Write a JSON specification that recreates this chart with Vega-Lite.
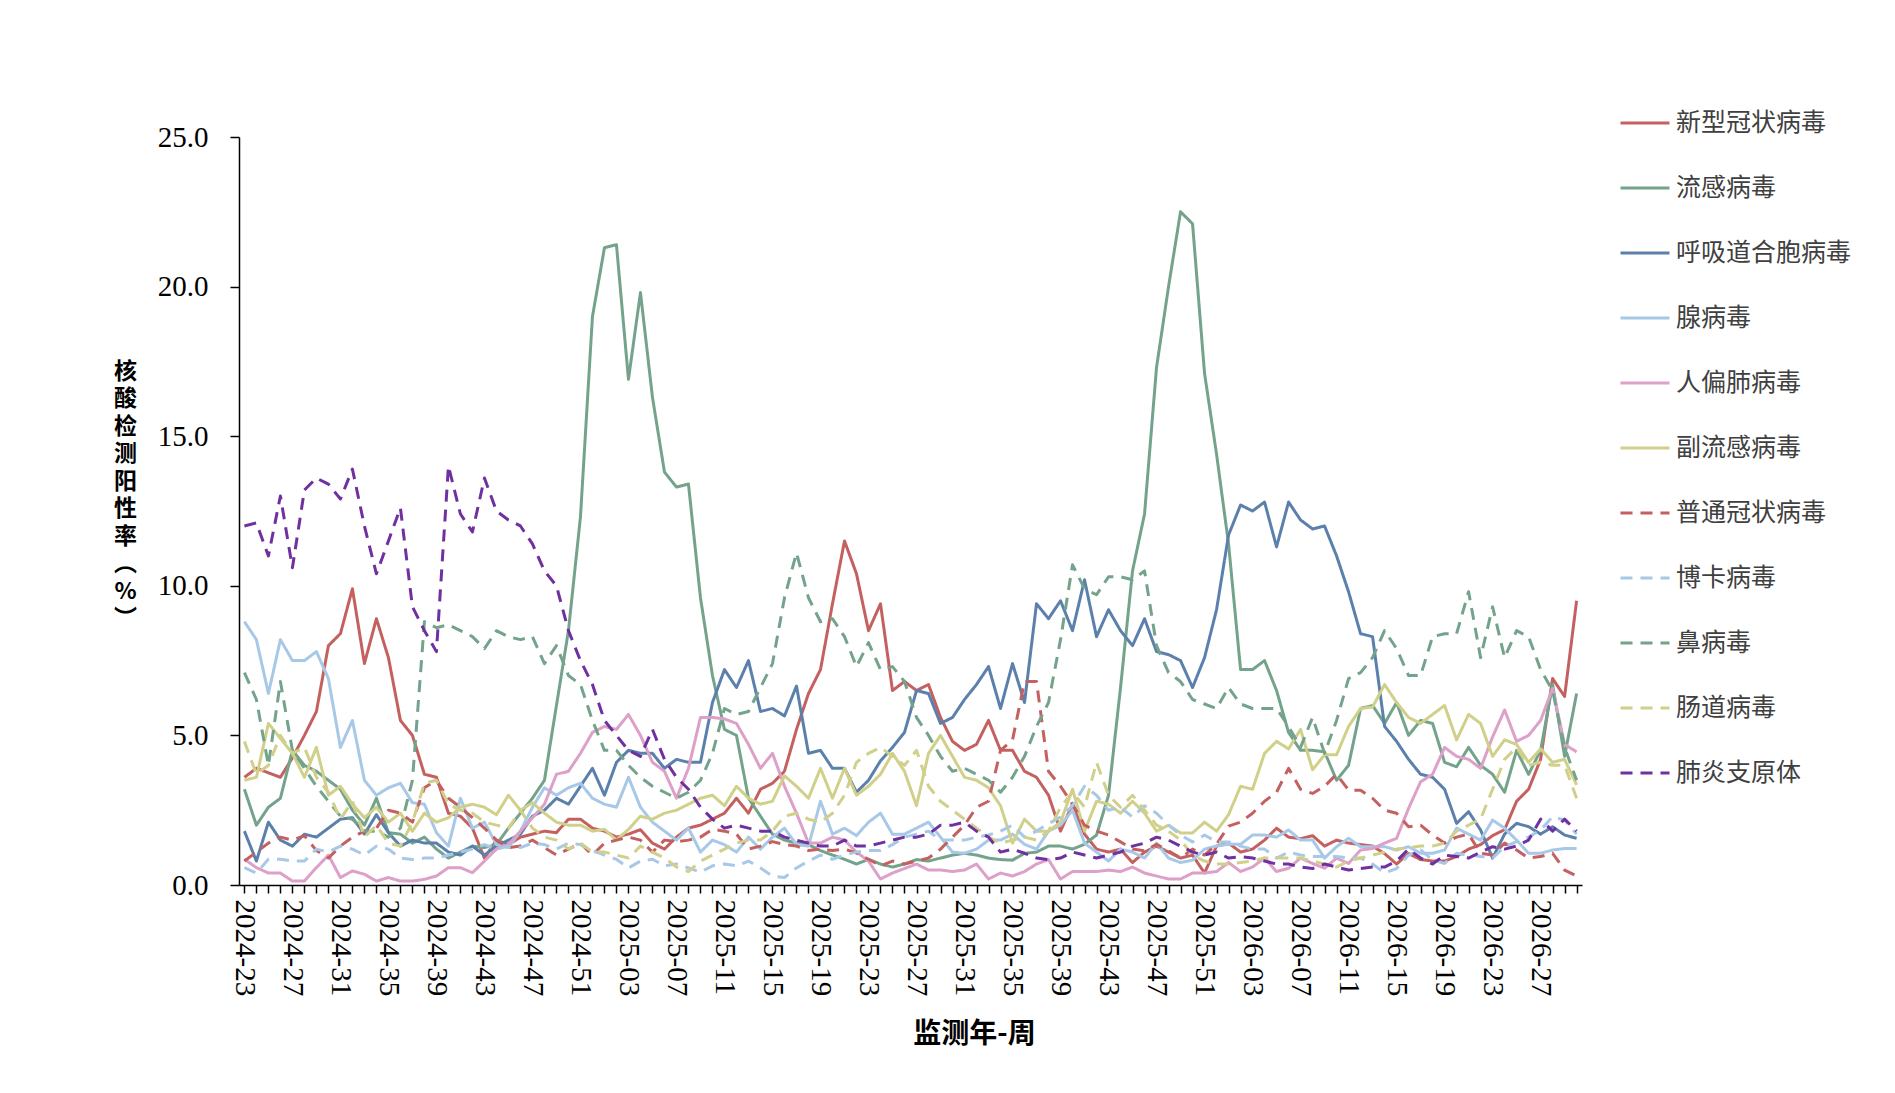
{
  "$schema": "https://vega.github.io/schema/vega-lite/v6.json",
  "width": 1343,
  "height": 748,
  "autosize": {"type": "none"},
  "padding": {"left": 239, "top": 137, "right": 313, "bottom": 208},
  "background": "white",
  "config": {"view": {"stroke": null}, "font": "Liberation Serif"},
  "datasets": {
    "names": [
      {"key": "a", "name": "新型冠状病毒"},
      {"key": "b", "name": "流感病毒"},
      {"key": "c", "name": "呼吸道合胞病毒"},
      {"key": "d", "name": "腺病毒"},
      {"key": "e", "name": "人偏肺病毒"},
      {"key": "f", "name": "副流感病毒"},
      {"key": "g", "name": "普通冠状病毒"},
      {"key": "h", "name": "博卡病毒"},
      {"key": "i", "name": "鼻病毒"},
      {"key": "j", "name": "肠道病毒"},
      {"key": "k", "name": "肺炎支原体"}
    ]
  },
  "data": {
    "values": [
      {"w":"2024-23","a":3.6,"b":3.2,"c":1.8,"d":8.8,"e":0.86,"f":3.5,"g":0.8,"h":0.58,"i":7.1,"j":4.8,"k":12.0},
      {"w":"2024-24","a":3.9,"b":2.0,"c":0.8,"d":8.2,"e":0.58,"f":3.6,"g":1.1,"h":0.4,"i":6.2,"j":3.7,"k":12.1},
      {"w":"2024-25","a":3.75,"b":2.6,"c":2.1,"d":6.4,"e":0.4,"f":5.4,"g":1.4,"h":0.86,"i":4.0,"j":4.0,"k":11.0},
      {"w":"2024-26","a":3.6,"b":2.9,"c":1.5,"d":8.2,"e":0.4,"f":4.9,"g":1.6,"h":0.86,"i":6.8,"j":5.0,"k":13.0},
      {"w":"2024-27","a":4.25,"b":4.5,"c":1.3,"d":7.5,"e":0.13,"f":4.4,"g":1.5,"h":0.8,"i":4.5,"j":4.4,"k":10.6},
      {"w":"2024-28","a":5.0,"b":4.0,"c":1.7,"d":7.5,"e":0.13,"f":3.6,"g":1.65,"h":0.8,"i":3.9,"j":4.6,"k":13.2},
      {"w":"2024-29","a":5.8,"b":3.8,"c":1.6,"d":7.8,"e":0.58,"f":4.6,"g":1.15,"h":1.2,"i":3.3,"j":3.6,"k":13.6},
      {"w":"2024-30","a":8.0,"b":3.5,"c":1.9,"d":6.9,"e":1.0,"f":3.0,"g":0.9,"h":1.1,"i":2.8,"j":3.1,"k":13.4},
      {"w":"2024-31","a":8.4,"b":3.2,"c":2.2,"d":4.6,"e":0.25,"f":3.3,"g":1.3,"h":1.3,"i":2.3,"j":2.2,"k":12.9},
      {"w":"2024-32","a":9.9,"b":2.5,"c":2.25,"d":5.5,"e":0.47,"f":2.7,"g":1.6,"h":1.2,"i":2.2,"j":2.8,"k":13.9},
      {"w":"2024-33","a":7.4,"b":2.0,"c":1.7,"d":3.5,"e":0.36,"f":2.25,"g":1.8,"h":1.0,"i":1.8,"j":1.6,"k":12.0},
      {"w":"2024-34","a":8.9,"b":2.9,"c":2.35,"d":3.0,"e":0.13,"f":2.6,"g":1.9,"h":1.3,"i":1.8,"j":2.0,"k":10.4},
      {"w":"2024-35","a":7.6,"b":1.75,"c":1.75,"d":3.25,"e":0.25,"f":2.1,"g":2.5,"h":1.2,"i":1.6,"j":1.4,"k":11.5},
      {"w":"2024-36","a":5.5,"b":1.7,"c":1.3,"d":3.4,"e":0.13,"f":2.4,"g":2.4,"h":0.9,"i":1.9,"j":1.3,"k":12.6},
      {"w":"2024-37","a":5.0,"b":1.4,"c":1.5,"d":2.75,"e":0.13,"f":1.8,"g":2.1,"h":0.85,"i":3.5,"j":2.1,"k":9.3},
      {"w":"2024-38","a":3.7,"b":1.6,"c":1.4,"d":2.7,"e":0.19,"f":2.4,"g":3.25,"h":0.9,"i":8.8,"j":3.4,"k":8.5},
      {"w":"2024-39","a":3.6,"b":1.2,"c":1.4,"d":1.75,"e":0.3,"f":2.1,"g":3.5,"h":0.9,"i":8.6,"j":3.5,"k":7.8},
      {"w":"2024-40","a":2.4,"b":0.9,"c":1.1,"d":1.3,"e":0.58,"f":2.25,"g":2.9,"h":1.0,"i":8.7,"j":2.7,"k":14.0},
      {"w":"2024-41","a":2.3,"b":1.1,"c":1.0,"d":2.9,"e":0.58,"f":2.6,"g":2.6,"h":1.1,"i":8.5,"j":2.5,"k":12.4},
      {"w":"2024-42","a":1.9,"b":1.3,"c":1.3,"d":1.9,"e":0.41,"f":2.7,"g":2.25,"h":1.2,"i":8.3,"j":2.4,"k":11.8},
      {"w":"2024-43","a":0.9,"b":1.25,"c":1.0,"d":2.1,"e":0.8,"f":2.6,"g":1.9,"h":1.35,"i":7.9,"j":2.1,"k":13.6},
      {"w":"2024-44","a":1.5,"b":1.35,"c":1.3,"d":1.35,"e":1.2,"f":2.35,"g":1.5,"h":1.2,"i":8.5,"j":2.0,"k":12.5},
      {"w":"2024-45","a":1.35,"b":1.9,"c":1.5,"d":1.25,"e":1.35,"f":3.0,"g":1.25,"h":1.3,"i":8.3,"j":1.9,"k":12.2},
      {"w":"2024-46","a":1.6,"b":2.4,"c":1.7,"d":1.8,"e":1.8,"f":2.5,"g":1.3,"h":1.25,"i":8.2,"j":2.5,"k":12.0},
      {"w":"2024-47","a":1.7,"b":2.9,"c":2.3,"d":2.6,"e":2.25,"f":2.75,"g":1.5,"h":1.4,"i":8.3,"j":1.9,"k":11.4},
      {"w":"2024-48","a":1.8,"b":3.5,"c":2.5,"d":3.25,"e":2.7,"f":2.4,"g":1.25,"h":1.35,"i":7.4,"j":1.6,"k":10.5},
      {"w":"2024-49","a":1.75,"b":6.0,"c":2.9,"d":3.0,"e":3.7,"f":2.1,"g":1.0,"h":1.2,"i":8.0,"j":1.5,"k":10.0},
      {"w":"2024-50","a":2.2,"b":8.5,"c":2.7,"d":3.25,"e":3.8,"f":2.0,"g":1.2,"h":1.4,"i":7.0,"j":1.2,"k":8.5},
      {"w":"2024-51","a":2.2,"b":12.3,"c":3.3,"d":3.4,"e":4.4,"f":2.0,"g":1.4,"h":1.35,"i":6.7,"j":1.4,"k":7.5},
      {"w":"2024-52","a":1.9,"b":19.0,"c":3.9,"d":2.9,"e":5.1,"f":1.8,"g":1.0,"h":1.15,"i":5.5,"j":1.1,"k":6.7},
      {"w":"2025-01","a":1.8,"b":21.3,"c":3.0,"d":2.7,"e":5.3,"f":1.86,"g":1.4,"h":1.0,"i":4.5,"j":1.1,"k":5.5},
      {"w":"2025-02","a":1.6,"b":21.4,"c":4.1,"d":2.6,"e":5.2,"f":1.5,"g":1.5,"h":0.86,"i":4.5,"j":1.0,"k":5.0},
      {"w":"2025-03","a":1.7,"b":16.9,"c":4.5,"d":3.6,"e":5.7,"f":1.86,"g":1.6,"h":0.57,"i":4.0,"j":0.9,"k":4.5},
      {"w":"2025-04","a":1.85,"b":19.8,"c":4.4,"d":2.6,"e":5.0,"f":2.3,"g":1.5,"h":0.8,"i":3.6,"j":1.3,"k":4.3},
      {"w":"2025-05","a":1.4,"b":16.3,"c":4.4,"d":2.1,"e":4.1,"f":2.2,"g":1.1,"h":0.86,"i":3.3,"j":1.1,"k":5.2},
      {"w":"2025-06","a":1.2,"b":13.8,"c":3.9,"d":1.8,"e":3.8,"f":2.4,"g":1.5,"h":0.64,"i":3.1,"j":0.9,"k":4.2},
      {"w":"2025-07","a":1.6,"b":13.3,"c":4.2,"d":1.5,"e":2.9,"f":2.5,"g":1.45,"h":0.7,"i":2.9,"j":0.6,"k":3.6},
      {"w":"2025-08","a":1.9,"b":13.4,"c":4.1,"d":1.9,"e":3.9,"f":2.7,"g":1.5,"h":0.57,"i":3.1,"j":0.45,"k":3.2},
      {"w":"2025-09","a":2.0,"b":9.6,"c":4.1,"d":1.1,"e":5.6,"f":2.9,"g":1.6,"h":0.43,"i":3.5,"j":0.8,"k":2.6},
      {"w":"2025-10","a":2.2,"b":7.0,"c":6.1,"d":1.5,"e":5.6,"f":3.0,"g":1.86,"h":0.64,"i":4.4,"j":1.0,"k":2.2},
      {"w":"2025-11","a":2.4,"b":5.2,"c":7.2,"d":1.35,"e":5.55,"f":2.65,"g":1.8,"h":0.7,"i":5.9,"j":1.2,"k":1.9},
      {"w":"2025-12","a":2.9,"b":5.0,"c":6.6,"d":1.1,"e":5.4,"f":3.3,"g":1.7,"h":0.64,"i":5.7,"j":1.4,"k":2.0},
      {"w":"2025-13","a":2.4,"b":2.9,"c":7.5,"d":1.6,"e":4.7,"f":2.9,"g":1.2,"h":0.8,"i":5.8,"j":1.5,"k":1.9},
      {"w":"2025-14","a":3.2,"b":2.3,"c":5.8,"d":1.2,"e":3.9,"f":2.7,"g":1.3,"h":0.57,"i":6.6,"j":1.5,"k":1.8},
      {"w":"2025-15","a":3.4,"b":1.7,"c":5.9,"d":1.6,"e":4.4,"f":2.8,"g":1.45,"h":0.3,"i":7.4,"j":1.8,"k":1.8},
      {"w":"2025-16","a":3.8,"b":1.5,"c":5.65,"d":1.9,"e":3.3,"f":3.65,"g":1.35,"h":0.25,"i":9.6,"j":2.3,"k":1.6},
      {"w":"2025-17","a":5.2,"b":1.4,"c":6.65,"d":1.35,"e":2.4,"f":3.3,"g":1.3,"h":0.57,"i":11.1,"j":2.4,"k":1.5},
      {"w":"2025-18","a":6.4,"b":1.35,"c":4.4,"d":1.3,"e":1.4,"f":2.9,"g":1.15,"h":0.8,"i":9.6,"j":2.2,"k":1.4},
      {"w":"2025-19","a":7.2,"b":1.15,"c":4.5,"d":2.8,"e":1.4,"f":3.9,"g":1.2,"h":1.0,"i":8.8,"j":2.1,"k":1.3},
      {"w":"2025-20","a":9.4,"b":1.0,"c":3.9,"d":1.7,"e":1.6,"f":2.9,"g":1.15,"h":0.86,"i":8.9,"j":2.4,"k":1.3},
      {"w":"2025-21","a":11.5,"b":0.86,"c":3.9,"d":1.9,"e":1.5,"f":3.9,"g":1.2,"h":1.0,"i":8.3,"j":3.0,"k":1.5},
      {"w":"2025-22","a":10.4,"b":0.7,"c":3.1,"d":1.65,"e":1.1,"f":3.0,"g":1.07,"h":1.1,"i":7.3,"j":4.1,"k":1.3},
      {"w":"2025-23","a":8.5,"b":0.86,"c":3.5,"d":2.1,"e":0.8,"f":3.3,"g":0.86,"h":1.15,"i":8.1,"j":4.4,"k":1.3},
      {"w":"2025-24","a":9.4,"b":0.7,"c":4.15,"d":2.4,"e":0.2,"f":3.7,"g":0.64,"h":1.15,"i":7.2,"j":4.6,"k":1.4},
      {"w":"2025-25","a":6.5,"b":0.6,"c":4.6,"d":1.7,"e":0.4,"f":4.4,"g":0.8,"h":1.35,"i":7.3,"j":4.3,"k":1.5},
      {"w":"2025-26","a":6.8,"b":0.7,"c":5.1,"d":1.7,"e":0.55,"f":3.8,"g":0.7,"h":1.6,"i":6.8,"j":4.0,"k":1.6},
      {"w":"2025-27","a":6.5,"b":0.85,"c":6.5,"d":1.9,"e":0.7,"f":2.65,"g":0.8,"h":1.7,"i":5.6,"j":4.5,"k":1.6},
      {"w":"2025-28","a":6.7,"b":0.8,"c":6.4,"d":2.1,"e":0.5,"f":4.4,"g":0.9,"h":1.8,"i":5.0,"j":3.3,"k":1.7},
      {"w":"2025-29","a":5.6,"b":0.9,"c":5.4,"d":1.6,"e":0.5,"f":5.0,"g":1.2,"h":1.5,"i":4.3,"j":2.8,"k":2.0},
      {"w":"2025-30","a":4.8,"b":1.0,"c":5.6,"d":1.1,"e":0.45,"f":4.3,"g":1.6,"h":1.5,"i":3.8,"j":2.5,"k":2.0},
      {"w":"2025-31","a":4.5,"b":1.06,"c":6.2,"d":1.06,"e":0.5,"f":3.6,"g":2.0,"h":1.5,"i":3.9,"j":2.2,"k":2.1},
      {"w":"2025-32","a":4.7,"b":1.0,"c":6.7,"d":1.2,"e":0.7,"f":3.5,"g":2.6,"h":1.6,"i":3.7,"j":1.9,"k":1.8},
      {"w":"2025-33","a":5.5,"b":0.9,"c":7.3,"d":1.5,"e":0.2,"f":3.25,"g":2.8,"h":1.67,"i":3.5,"j":1.6,"k":1.6},
      {"w":"2025-34","a":4.5,"b":0.85,"c":5.9,"d":1.5,"e":0.4,"f":2.65,"g":4.5,"h":1.8,"i":3.1,"j":1.4,"k":1.1},
      {"w":"2025-35","a":4.5,"b":0.83,"c":7.4,"d":1.7,"e":0.3,"f":1.4,"g":4.85,"h":2.0,"i":3.6,"j":1.5,"k":1.2},
      {"w":"2025-36","a":3.8,"b":1.06,"c":6.1,"d":1.36,"e":0.45,"f":2.2,"g":6.8,"h":1.6,"i":4.3,"j":1.6,"k":1.06},
      {"w":"2025-37","a":3.6,"b":1.1,"c":9.4,"d":1.2,"e":0.7,"f":1.8,"g":6.8,"h":1.8,"i":5.3,"j":1.5,"k":0.9},
      {"w":"2025-38","a":3.0,"b":1.3,"c":8.9,"d":1.8,"e":0.85,"f":1.8,"g":3.8,"h":2.05,"i":6.1,"j":1.8,"k":0.85},
      {"w":"2025-39","a":1.8,"b":1.3,"c":9.5,"d":2.0,"e":0.2,"f":2.1,"g":3.3,"h":2.27,"i":8.2,"j":2.6,"k":0.9},
      {"w":"2025-40","a":2.7,"b":1.2,"c":8.5,"d":2.5,"e":0.45,"f":3.2,"g":2.7,"h":2.65,"i":10.7,"j":3.1,"k":1.1},
      {"w":"2025-41","a":1.7,"b":1.36,"c":10.2,"d":1.4,"e":0.45,"f":1.8,"g":2.0,"h":3.3,"i":9.9,"j":2.6,"k":1.0},
      {"w":"2025-42","a":1.2,"b":1.67,"c":8.3,"d":1.1,"e":0.45,"f":2.8,"g":1.8,"h":3.0,"i":9.7,"j":4.1,"k":0.9},
      {"w":"2025-43","a":1.1,"b":3.0,"c":9.2,"d":0.8,"e":0.5,"f":2.7,"g":1.67,"h":2.5,"i":10.3,"j":3.0,"k":1.0},
      {"w":"2025-44","a":1.2,"b":6.6,"c":8.5,"d":1.2,"e":0.45,"f":2.4,"g":1.44,"h":2.6,"i":10.3,"j":2.6,"k":1.1},
      {"w":"2025-45","a":0.75,"b":10.5,"c":8.0,"d":1.1,"e":0.6,"f":2.8,"g":1.2,"h":2.27,"i":10.2,"j":3.0,"k":1.3},
      {"w":"2025-46","a":1.1,"b":12.4,"c":8.9,"d":0.9,"e":0.4,"f":2.4,"g":1.14,"h":2.65,"i":10.5,"j":2.5,"k":1.4},
      {"w":"2025-47","a":1.3,"b":17.3,"c":7.8,"d":1.4,"e":0.3,"f":1.8,"g":1.36,"h":2.4,"i":8.0,"j":2.0,"k":1.6},
      {"w":"2025-48","a":1.1,"b":20.0,"c":7.7,"d":0.9,"e":0.2,"f":2.0,"g":1.14,"h":2.0,"i":7.1,"j":1.8,"k":1.5},
      {"w":"2025-49","a":0.9,"b":22.5,"c":7.5,"d":0.75,"e":0.2,"f":1.74,"g":0.9,"h":1.67,"i":6.8,"j":1.5,"k":1.3},
      {"w":"2025-50","a":1.0,"b":22.1,"c":6.6,"d":0.83,"e":0.4,"f":1.74,"g":1.2,"h":1.44,"i":6.2,"j":1.0,"k":1.1},
      {"w":"2025-51","a":0.4,"b":17.1,"c":7.6,"d":1.2,"e":0.4,"f":2.1,"g":1.0,"h":1.67,"i":6.05,"j":0.8,"k":1.0},
      {"w":"2025-52","a":1.3,"b":14.4,"c":9.2,"d":1.3,"e":0.45,"f":1.8,"g":1.36,"h":1.44,"i":5.9,"j":0.7,"k":1.1},
      {"w":"2026-01","a":1.4,"b":11.4,"c":11.7,"d":1.36,"e":0.75,"f":2.35,"g":1.97,"h":1.44,"i":6.6,"j":0.7,"k":0.9},
      {"w":"2026-02","a":1.1,"b":7.2,"c":12.7,"d":1.36,"e":0.45,"f":3.3,"g":2.1,"h":1.3,"i":6.05,"j":0.75,"k":0.95},
      {"w":"2026-03","a":1.2,"b":7.2,"c":12.5,"d":1.67,"e":0.6,"f":3.2,"g":2.4,"h":1.2,"i":5.9,"j":0.8,"k":0.9},
      {"w":"2026-04","a":1.5,"b":7.5,"c":12.8,"d":1.67,"e":0.9,"f":4.4,"g":2.8,"h":1.2,"i":5.9,"j":0.9,"k":0.8},
      {"w":"2026-05","a":1.9,"b":6.5,"c":11.3,"d":1.6,"e":0.45,"f":4.8,"g":3.1,"h":0.9,"i":5.9,"j":0.9,"k":0.7},
      {"w":"2026-06","a":1.6,"b":5.1,"c":12.8,"d":1.84,"e":0.56,"f":4.55,"g":3.9,"h":1.1,"i":5.3,"j":0.9,"k":0.7},
      {"w":"2026-07","a":1.55,"b":4.5,"c":12.2,"d":1.5,"e":0.9,"f":5.2,"g":3.2,"h":1.0,"i":4.6,"j":0.9,"k":0.6},
      {"w":"2026-08","a":1.65,"b":4.5,"c":11.9,"d":1.5,"e":0.72,"f":3.85,"g":3.06,"h":0.95,"i":5.6,"j":0.8,"k":0.55},
      {"w":"2026-09","a":1.3,"b":4.45,"c":12.0,"d":0.9,"e":0.56,"f":4.35,"g":3.3,"h":0.95,"i":4.4,"j":0.7,"k":0.7},
      {"w":"2026-10","a":1.5,"b":3.5,"c":11.0,"d":1.28,"e":0.9,"f":4.35,"g":3.7,"h":0.95,"i":5.5,"j":0.6,"k":0.6},
      {"w":"2026-11","a":1.4,"b":4.0,"c":9.8,"d":1.56,"e":0.72,"f":5.3,"g":3.17,"h":0.9,"i":6.9,"j":0.8,"k":0.5},
      {"w":"2026-12","a":1.35,"b":5.9,"c":8.4,"d":1.28,"e":1.17,"f":5.9,"g":3.17,"h":0.9,"i":7.1,"j":0.9,"k":0.55},
      {"w":"2026-13","a":1.3,"b":6.0,"c":8.3,"d":1.28,"e":1.22,"f":5.95,"g":2.9,"h":0.7,"i":7.6,"j":1.0,"k":0.6},
      {"w":"2026-14","a":1.05,"b":5.4,"c":5.3,"d":1.28,"e":1.4,"f":6.7,"g":2.5,"h":0.4,"i":8.5,"j":1.1,"k":0.6},
      {"w":"2026-15","a":0.7,"b":6.1,"c":4.8,"d":1.17,"e":1.56,"f":6.1,"g":2.4,"h":0.55,"i":7.9,"j":1.2,"k":0.8},
      {"w":"2026-16","a":1.05,"b":5.0,"c":4.2,"d":1.28,"e":2.56,"f":5.6,"g":1.95,"h":1.0,"i":7.0,"j":1.25,"k":1.2},
      {"w":"2026-17","a":0.85,"b":5.5,"c":3.7,"d":1.06,"e":3.45,"f":5.4,"g":2.0,"h":1.17,"i":7.0,"j":1.3,"k":0.9},
      {"w":"2026-18","a":0.8,"b":5.4,"c":3.6,"d":1.06,"e":3.7,"f":5.7,"g":1.67,"h":0.84,"i":8.3,"j":1.3,"k":0.7},
      {"w":"2026-19","a":0.8,"b":4.1,"c":3.2,"d":1.17,"e":4.6,"f":6.0,"g":1.4,"h":0.72,"i":8.4,"j":1.4,"k":1.0},
      {"w":"2026-20","a":0.95,"b":3.95,"c":2.06,"d":1.9,"e":4.3,"f":4.85,"g":1.6,"h":1.06,"i":8.4,"j":1.8,"k":0.95},
      {"w":"2026-21","a":1.2,"b":4.6,"c":2.45,"d":1.7,"e":4.2,"f":5.7,"g":1.7,"h":1.0,"i":9.8,"j":2.0,"k":0.9},
      {"w":"2026-22","a":1.35,"b":4.0,"c":1.84,"d":1.5,"e":3.9,"f":5.4,"g":1.06,"h":0.95,"i":7.6,"j":2.2,"k":1.1},
      {"w":"2026-23","a":1.65,"b":3.7,"c":0.9,"d":2.17,"e":4.95,"f":4.3,"g":1.0,"h":0.9,"i":9.3,"j":3.2,"k":1.28},
      {"w":"2026-24","a":1.85,"b":3.1,"c":1.7,"d":1.9,"e":5.85,"f":4.85,"g":1.4,"h":1.28,"i":7.6,"j":4.2,"k":1.2},
      {"w":"2026-25","a":2.8,"b":4.5,"c":2.06,"d":1.5,"e":4.8,"f":4.7,"g":1.17,"h":1.45,"i":8.5,"j":4.6,"k":1.3},
      {"w":"2026-26","a":3.2,"b":3.7,"c":1.95,"d":1.06,"e":5.0,"f":4.1,"g":0.9,"h":1.6,"i":8.3,"j":4.0,"k":1.5},
      {"w":"2026-27","a":4.2,"b":4.5,"c":1.7,"d":1.06,"e":5.5,"f":4.55,"g":0.95,"h":1.84,"i":7.2,"j":4.1,"k":2.2},
      {"w":"2026-28","a":6.9,"b":6.7,"c":1.95,"d":1.17,"e":6.57,"f":4.1,"g":1.06,"h":2.28,"i":6.5,"j":4.0,"k":1.8},
      {"w":"2026-29","a":6.3,"b":4.3,"c":1.67,"d":1.22,"e":4.7,"f":4.2,"g":0.5,"h":2.17,"i":4.6,"j":4.0,"k":2.2},
      {"w":"2026-30","a":9.5,"b":6.4,"c":1.56,"d":1.22,"e":4.45,"f":3.35,"g":0.3,"h":1.7,"i":3.5,"j":2.9,"k":1.8}
    ]
  },
  "transform": [
    {"fold": ["a", "b", "c", "d", "e", "f", "g", "h", "i", "j", "k"], "as": ["key", "v"]},
    {"lookup": "key", "from": {"data": {"name": "names"}, "key": "key", "fields": ["name"]}}
  ],
  "mark": {"type": "line", "strokeWidth": 3, "strokeCap": "butt", "strokeJoin": "round"},
  "encoding": {
    "x": {
      "field": "w",
      "type": "ordinal",
      "scale": {"type": "point", "padding": 0.45},
      "axis": {
        "title": "监测年-周",
        "titleFont": "Noto Sans CJK SC",
        "titleFontSize": 28,
        "titleFontWeight": "bold",
        "titleColor": "#000000",
        "titleX": 735,
        "titleY": 149,
        "titleAlign": "center",
        "titleBaseline": "middle",
        "labelAngle": 90,
        "labelFont": "Liberation Serif",
        "labelFontSize": 29,
        "labelColor": "#000000",
        "labelPadding": 6,
        "labelOverlap": false,
        "labelBound": false,
        "labelFlush": false,
        "labelExpr": "toNumber(substring(datum.value, 5, 7)) % 4 == 3 ? datum.value : ''",
        "tickSize": 8,
        "tickColor": "#000000",
        "tickWidth": 1.5,
        "domainColor": "#000000",
        "domainWidth": 1.5,
        "grid": false
      }
    },
    "y": {
      "field": "v",
      "type": "quantitative",
      "scale": {"domain": [0, 25], "nice": false},
      "axis": {
        "title": ["核", "酸", "检", "测", "阳", "性", "率", "︵", "%", "︶"],
        "titleAngle": 0,
        "titleX": -114,
        "titleY": 234,
        "titleAlign": "center",
        "titleBaseline": "middle",
        "titleFont": "Noto Sans CJK SC",
        "titleFontSize": 23,
        "titleFontWeight": "bold",
        "titleLineHeight": 27.5,
        "titleColor": "#000000",
        "values": [0, 5, 10, 15, 20, 25],
        "format": ".1f",
        "labelFont": "Liberation Serif",
        "labelFontSize": 29,
        "labelColor": "#000000",
        "labelPadding": 22,
        "tickSize": 9,
        "tickColor": "#000000",
        "tickWidth": 1.5,
        "domainColor": "#000000",
        "domainWidth": 1.5,
        "grid": false
      }
    },
    "color": {
      "field": "name",
      "type": "nominal",
      "scale": {
        "domain": ["新型冠状病毒", "流感病毒", "呼吸道合胞病毒", "腺病毒", "人偏肺病毒", "副流感病毒", "普通冠状病毒", "博卡病毒", "鼻病毒", "肠道病毒", "肺炎支原体"],
        "range": ["#C46160", "#74A38C", "#5B80AC", "#A8C8E8", "#DDA0C8", "#D0D08A", "#C46160", "#A8C8E8", "#74A38C", "#D0D08A", "#7030A0"]
      },
      "legend": {
        "title": null,
        "orient": "none",
        "legendX": 1380,
        "legendY": -40,
        "symbolType": "stroke",
        "symbolSize": 2401,
        "symbolStrokeWidth": 3,
        "labelFont": "Noto Sans CJK SC",
        "labelFontSize": 25,
        "labelColor": "#404040",
        "labelOffset": 5,
        "labelLimit": 300,
        "rowPadding": 26
      }
    },
    "strokeDash": {
      "field": "name",
      "type": "nominal",
      "scale": {
        "domain": ["新型冠状病毒", "流感病毒", "呼吸道合胞病毒", "腺病毒", "人偏肺病毒", "副流感病毒", "普通冠状病毒", "博卡病毒", "鼻病毒", "肠道病毒", "肺炎支原体"],
        "range": [[1, 0], [1, 0], [1, 0], [1, 0], [1, 0], [1, 0], [12, 8], [12, 8], [12, 8], [12, 8], [12, 8]]
      },
      "legend": {
        "title": null,
        "orient": "none",
        "legendX": 1380,
        "legendY": -40,
        "symbolType": "stroke",
        "symbolSize": 2401,
        "symbolStrokeWidth": 3,
        "labelFont": "Noto Sans CJK SC",
        "labelFontSize": 25,
        "labelColor": "#404040",
        "labelOffset": 5,
        "labelLimit": 300,
        "rowPadding": 26
      }
    }
  }
}
